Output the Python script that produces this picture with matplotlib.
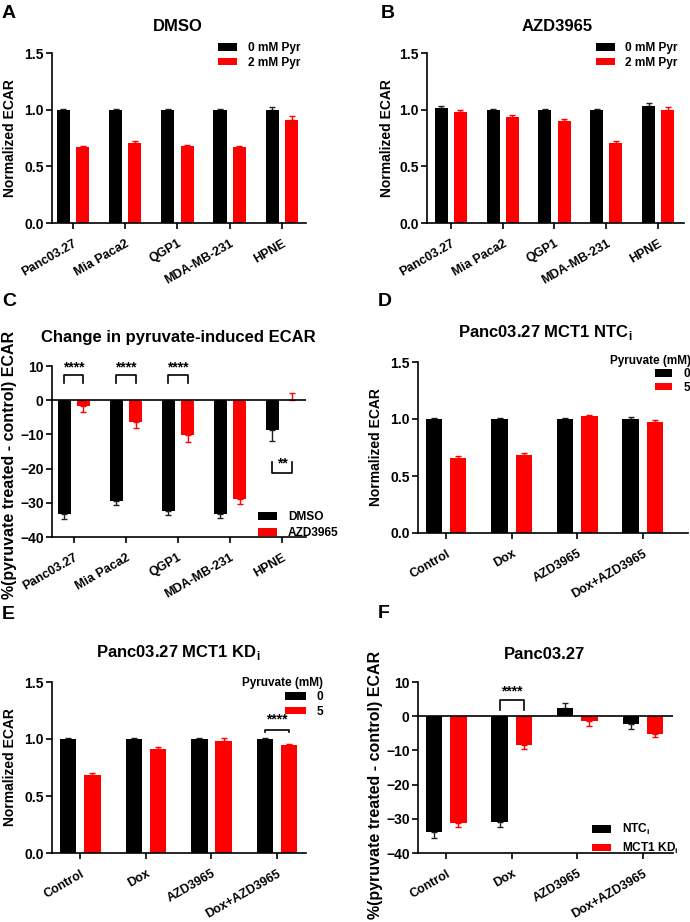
import numpy as np
import matplotlib
matplotlib.use("Agg")
from matplotlib import pyplot as plt

plt.rcParams["font.family"] = ["Liberation Sans", "DejaVu Sans"]
plt.rcParams["font.weight"] = "bold"
plt.rcParams["axes.labelweight"] = "bold"
plt.rcParams["axes.titleweight"] = "bold"
plt.rcParams["mathtext.fontset"] = "custom"
plt.rcParams["mathtext.rm"] = "Liberation Sans:bold"
plt.rcParams["mathtext.bf"] = "Liberation Sans:bold"

# data
cell_lines = ["Panc03.27", "Mia Paca2", "QGP1", "MDA-MB-231", "HPNE"]
treatments = ["Control", "Dox", "AZD3965", "Dox+AZD3965"]

a_pyr0 = [1.0, 1.0, 1.0, 1.0, 1.0]
a_pyr0_err = [0.006, 0.005, 0.005, 0.008, 0.024]
a_pyr2 = [0.668, 0.706, 0.676, 0.668, 0.912]
a_pyr2_err = [0.015, 0.015, 0.012, 0.008, 0.035]

b_pyr0 = [1.015, 1.0, 1.0, 1.0, 1.03]
b_pyr0_err = [0.015, 0.01, 0.006, 0.008, 0.03]
b_pyr2 = [0.982, 0.938, 0.897, 0.706, 1.0]
b_pyr2_err = [0.018, 0.018, 0.023, 0.018, 0.024]

c_dmso = [-33.4, -29.4, -32.3, -33.4, -8.75]
c_dmso_err = [1.4, 1.1, 1.3, 0.9, 3.1]
c_azd = [-1.75, -6.4, -10.3, -29.0, 0.2]
c_azd_err = [1.6, 1.8, 1.9, 1.4, 2.0]

d_pyr0 = [1.0, 1.0, 1.0, 1.0]
d_pyr0_err = [0.006, 0.005, 0.01, 0.015]
d_pyr5 = [0.658, 0.687, 1.023, 0.974]
d_pyr5_err = [0.02, 0.015, 0.015, 0.018]

e_pyr0 = [1.0, 1.0, 1.0, 1.0]
e_pyr0_err = [0.008, 0.005, 0.01, 0.005]
e_pyr5 = [0.683, 0.915, 0.985, 0.947]
e_pyr5_err = [0.015, 0.015, 0.02, 0.009]

f_ntc = [-33.8, -30.9, 2.4, -2.4]
f_ntc_err = [1.9, 1.4, 1.4, 1.3]
f_kd = [-31.2, -8.45, -1.3, -5.1]
f_kd_err = [1.1, 1.1, 1.6, 0.9]

RED = "#ff0000"
W, H = 690, 922
OFF = 0.185
BW = 0.25
LEG_FS = 8.6

fig = plt.figure(figsize=(W / 100, H / 100), dpi=100)


def px_axes(x0, y0, x1, y1):
    return fig.add_axes([x0 / W, 1 - y1 / H, (x1 - x0) / W, (y1 - y0) / H])


def bars(ax, vals, errs, off, color, label):
    v = np.array(vals)
    e = np.array(errs)
    x = np.arange(len(v)) + off
    ax.bar(x, v, BW, color=color, label=label, zorder=2)
    lower = np.where(v < 0, e, 0)
    upper = np.where(v >= 0, e, 0)
    ecol = "#222222" if color == "black" else RED
    ax.errorbar(x, v, yerr=[lower, upper], fmt="none", ecolor=ecol,
                elinewidth=1, capsize=2.5, capthick=1, zorder=1)


def style(ax, cats, xlim, ylim, yticks, ylabel, label_x, label_y=0.5, label_fs=10):
    for s in ["top", "right"]:
        ax.spines[s].set_visible(False)
    for s in ["left", "bottom"]:
        ax.spines[s].set_linewidth(1.2)
    ax.set_xlim(xlim)
    ax.set_ylim(ylim)
    ax.set_yticks(yticks)
    ax.set_xticks(np.arange(len(cats)))
    ax.set_xticklabels(cats, rotation=30, ha="right", rotation_mode="anchor",
                       fontsize=9)
    ax.tick_params(axis="y", direction="out", length=4, width=1.2,
                   labelsize=10, pad=2)
    ax.tick_params(axis="x", direction="out", length=4, width=1.2, pad=6.5)
    ax.set_ylabel(ylabel, fontsize=label_fs)
    ax.yaxis.set_label_coords(label_x, label_y)


def bracket(ax, i, y_leg, y_top, text, y_text, fs=10):
    ax.plot([i - OFF, i - OFF, i + OFF, i + OFF], [y_leg, y_top, y_top, y_leg],
            color="black", lw=1.2, clip_on=False, zorder=3)
    ax.text(i, y_text, text, ha="center", va="center", fontsize=fs)


def legend(ax, anchor, **kw):
    opts = dict(loc="upper left", frameon=False, fontsize=LEG_FS,
                handlelength=1.6, handleheight=0.6, handletextpad=0.9,
                labelspacing=0.22, borderpad=0, borderaxespad=0)
    opts.update(kw)
    ax.legend(bbox_to_anchor=anchor, **opts)


# ---- A ----
ax = px_axes(52, 53, 306, 223)
bars(ax, a_pyr0, a_pyr0_err, -OFF, "black", "0 mM Pyr")
bars(ax, a_pyr2, a_pyr2_err, OFF, RED, "2 mM Pyr")
style(ax, cell_lines, (-0.40, 4.46), (0, 1.5), [0, 0.5, 1.0, 1.5],
      "Normalized ECAR", -0.138)
ax.set_yticklabels(["0.0", "0.5", "1.0", "1.5"])
ax.set_title("DMSO", fontsize=12, x=0.496, y=1.153, va="center", pad=0)
legend(ax, (0.655, 1.065))

# ---- B ----
ax = px_axes(427, 53, 684, 223)
bars(ax, b_pyr0, b_pyr0_err, -OFF, "black", "0 mM Pyr")
bars(ax, b_pyr2, b_pyr2_err, OFF, RED, "2 mM Pyr")
style(ax, cell_lines, (-0.46, 4.50), (0, 1.5), [0, 0.5, 1.0, 1.5],
      "Normalized ECAR", -0.128)
ax.set_yticklabels(["0.0", "0.5", "1.0", "1.5"])
ax.set_title("AZD3965", fontsize=12, x=0.506, y=1.153, va="center", pad=0)
legend(ax, (0.656, 1.065))

# ---- C ----
ax = px_axes(52, 366, 306, 537)
bars(ax, c_dmso, c_dmso_err, -OFF, "black", "DMSO")
bars(ax, c_azd, c_azd_err, OFF, RED, "AZD3965")
style(ax, cell_lines, (-0.42, 4.46), (-40, 10), [-40, -30, -20, -10, 0, 10],
      "%(pyruvate treated - control) ECAR", -0.138, 0.42, 11.5)
ax.axhline(0, color="black", lw=1.2, zorder=3)
ax.set_title("Change in pyruvate-induced ECAR", fontsize=12, x=0.496,
             y=1.164, va="center", pad=0)
for i in range(3):
    bracket(ax, i, 5.0, 7.3, "****", 9.6)
bracket(ax, 4, -18.0, -21.2, "**", -18.4)
legend(ax, (0.811, 0.15), labelspacing=0.3)

# ---- D ----
ax = px_axes(418, 362, 688, 533)
bars(ax, d_pyr0, d_pyr0_err, -OFF, "black", "0")
bars(ax, d_pyr5, d_pyr5_err, OFF, RED, "5")
style(ax, treatments, (-0.43, 3.69), (0, 1.5), [0, 0.5, 1.0, 1.5],
      "Normalized ECAR", -0.13)
ax.set_yticklabels(["0.0", "0.5", "1.0", "1.5"])
ax.set_title("Panc03.27 MCT1 NTC$_\\mathrm{i}$", fontsize=12, x=0.47,
             y=1.175, va="center", pad=0)
legend(ax, (1.01, 1.04), loc="upper right", title="Pyruvate (mM)",
       title_fontproperties={"weight": "bold", "size": 8.5},
       alignment="right", handlelength=1.4, handletextpad=1.0,
       labelspacing=0.1)

# ---- E ----
ax = px_axes(52, 682, 306, 853)
bars(ax, e_pyr0, e_pyr0_err, -OFF, "black", "0")
bars(ax, e_pyr5, e_pyr5_err, OFF, RED, "5")
style(ax, treatments, (-0.43, 3.44), (0, 1.5), [0, 0.5, 1.0, 1.5],
      "Normalized ECAR", -0.138)
ax.set_yticklabels(["0.0", "0.5", "1.0", "1.5"])
ax.set_title("Panc03.27 MCT1 KD$_\\mathrm{i}$", fontsize=12, x=0.496,
             y=1.175, va="center", pad=0)
bracket(ax, 3, 1.06, 1.08, "****", 1.17)
legend(ax, (1.067, 1.03), loc="upper right", title="Pyruvate (mM)",
       title_fontproperties={"weight": "bold", "size": 8.5},
       alignment="right", handlelength=1.7, handletextpad=0.9,
       labelspacing=0.2)

# ---- F ----
ax = px_axes(418, 682, 673, 853)
bars(ax, f_ntc, f_ntc_err, -OFF, "black", "NTC$_\\mathrm{i}$")
bars(ax, f_kd, f_kd_err, OFF, RED, "MCT1 KD$_\\mathrm{i}$")
style(ax, treatments, (-0.43, 3.46), (-40, 10), [-40, -30, -20, -10, 0, 10],
      "%(pyruvate treated - control) ECAR", -0.137, 0.40, 11.5)
ax.axhline(0, color="black", lw=1.2, zorder=3)
ax.set_title("Panc03.27", fontsize=12, x=0.498, y=1.158, va="center", pad=0)
bracket(ax, 1, 1.9, 4.7, "****", 7.1)
legend(ax, (0.682, 0.18), labelspacing=0.3)

# panel letters
for letter, x, y in [("A", 2, 13), ("B", 381, 13), ("C", 2, 301),
                     ("D", 378, 301), ("E", 2, 614), ("F", 378, 613)]:
    fig.text(x / W, 1 - y / H, letter, fontsize=14, ha="left", va="center")

fig.savefig("out.png", dpi=100)
